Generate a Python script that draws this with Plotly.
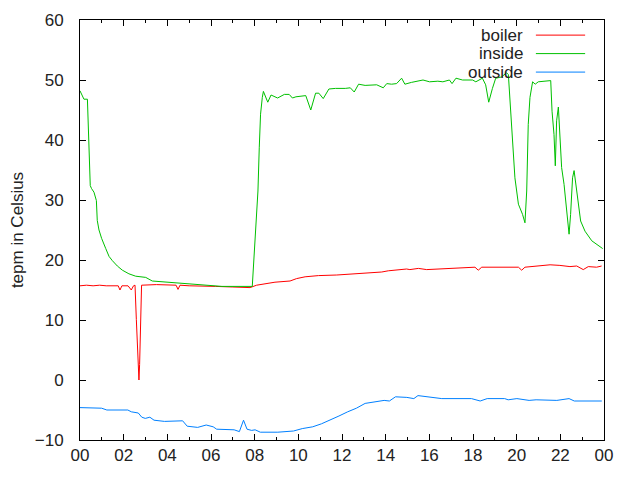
import plotly.graph_objects as go

# hours since midnight, readings in Celsius
boiler_hours = [0.0, 0.3, 0.6, 0.9, 1.2, 1.6, 1.75, 1.83, 1.92, 2.2, 2.35, 2.45, 2.52, 2.58,
                2.63, 2.67, 2.70, 2.73, 2.78, 2.82, 3.5, 4.0, 4.4, 4.49, 4.58, 5.0, 5.6, 6.2,
                7.0, 7.79, 8.09, 8.40, 8.93, 9.62, 9.92, 10.31, 10.92, 11.76, 12.98, 13.82,
                14.12, 14.81, 14.96, 15.11, 15.50, 15.88, 16.64, 17.33, 18.09, 18.24, 18.40,
                20.08, 20.23, 20.38, 20.84, 21.53, 21.98, 22.44, 22.75, 23.05, 23.28, 23.66,
                23.89]
boiler_temp = [15.7, 15.8, 15.7, 15.8, 15.7, 15.7, 15.7, 15.0, 15.7, 15.7, 15.0, 15.7, 15.8, 10.1,
               6.2, 2.3, 0.0, 2.6, 8.2, 15.8, 15.9, 15.9, 15.8, 15.1, 15.8, 15.7, 15.6, 15.6,
               15.5, 15.4, 15.8, 16.0, 16.3, 16.5, 16.9, 17.2, 17.4, 17.5, 17.8, 18.0,
               18.2, 18.4, 18.5, 18.4, 18.6, 18.4, 18.5, 18.7, 18.8, 18.3, 18.8,
               18.8, 18.3, 18.8, 19.0, 19.2, 19.1, 18.9, 19.0, 18.4, 18.9, 18.8,
               19.0]

inside_hours = [0.0, 0.18, 0.34, 0.38, 0.44, 0.47, 0.53, 0.64, 0.75, 0.79, 0.87, 0.99, 1.18,
                1.33, 1.48, 1.71, 1.94, 2.24, 2.55, 3.01, 3.31, 4.38, 5.0, 5.5, 6.5, 7.89,
                7.94, 8.0, 8.09, 8.15, 8.21, 8.27, 8.35, 8.40, 8.6, 8.75, 9.05, 9.36, 9.58,
                9.73, 9.89, 10.34, 10.57, 10.79, 10.94, 11.14, 11.40, 11.70, 12.15, 12.38,
                12.56, 12.76, 13.06, 13.59, 13.89, 14.05, 14.27, 14.5, 14.73, 14.88, 15.18,
                15.71, 16.01, 16.39, 16.62, 16.92, 17.04, 17.22, 17.52, 17.98, 18.13, 18.43,
                18.58, 18.72, 18.89, 19.04, 19.3, 19.54, 19.62, 19.69, 19.77, 19.85, 19.92,
                20.08, 20.27, 20.38, 20.46, 20.53, 20.61, 20.73, 20.85, 20.99, 21.56, 21.62,
                21.71, 21.77, 21.83, 21.91, 21.98, 22.06, 22.17, 22.29, 22.40, 22.47, 22.56,
                22.63, 22.75, 22.93, 23.13, 23.44, 23.94]
inside_temp = [48.2, 46.8, 46.8, 41.5, 37.7, 32.4, 31.9, 31.3, 29.9, 26.6, 25.0, 23.6, 21.9,
               20.6, 19.9, 19.0, 18.3, 17.7, 17.3, 17.1, 16.5, 16.2, 16.0, 15.8, 15.6, 15.6,
               19.0, 21.5, 27.1, 31.5, 38.7, 44.3, 47.1, 48.1, 46.3, 47.5, 47.0, 47.6, 47.6,
               47.0, 47.2, 47.4, 45.0, 47.8, 47.8, 46.9, 48.5, 48.6, 48.6, 48.7,
               48.0, 49.3, 49.1, 49.2, 48.7, 49.4, 49.3, 49.4, 50.3, 49.3, 49.6,
               50.0, 49.7, 49.8, 49.7, 50.0, 49.4, 50.3, 50.0, 50.0, 49.7, 50.3,
               49.2, 46.3, 48.6, 50.3, 50.5, 51.2, 50.9, 46.5, 41.5, 37.6, 33.7,
               29.3, 27.6, 26.2, 31.5, 42.6, 47.1, 49.7, 49.3, 49.7, 49.9, 44.8,
               40.9, 35.7, 43.2, 45.5, 40.9, 35.4, 32.6, 27.6, 24.3, 27.6, 33.7,
               34.9, 31.5, 26.5, 24.8, 23.2, 21.9]

outside_hours = [0.0, 0.99, 1.23, 2.19, 2.35, 2.67, 2.83, 2.99, 3.2, 3.39, 3.87, 4.59, 4.7,
                 4.91, 5.39, 5.78, 6.1, 6.26, 7.06, 7.3, 7.49, 7.65, 7.86, 8.02, 8.26, 9.06,
                 9.78, 10.18, 10.66, 11.06, 11.46, 11.86, 12.26, 12.66, 13.06, 13.45, 13.93,
                 14.17, 14.45, 14.97, 15.29, 15.48, 15.77, 16.25, 16.57, 17.93, 18.09, 18.33,
                 18.65, 19.45, 19.61, 20.01, 20.57, 20.89, 21.84, 22.08, 22.4, 22.64, 23.9]
outside_temp = [-4.6, -4.7, -5.0, -5.0, -5.3, -5.5, -6.2, -6.4, -6.2, -6.7, -6.9, -6.9, -6.8,
                -7.7, -7.9, -7.5, -7.8, -8.2, -8.3, -8.6, -6.7, -8.2, -8.4, -8.3, -8.7, -8.7,
                -8.5, -8.1, -7.8, -7.3, -6.7, -6.0, -5.3, -4.7, -3.9, -3.7, -3.4,
                -3.5, -2.8, -2.9, -3.1, -2.6, -2.7, -2.9, -3.1, -3.1, -3.3, -3.5,
                -3.1, -3.1, -3.3, -3.1, -3.4, -3.3, -3.4, -3.3, -3.1, -3.5, -3.5]

tick_hours = list(range(0, 25, 2))
tick_labels = ["00", "02", "04", "06", "08", "10", "12", "14", "16", "18", "20", "22", "00"]

series_names = ["boiler", "inside", "outside"]
series_colors = ["#ff0000", "#00c000", "#0080ff"]

FONT = dict(family="Liberation Sans, Arial, sans-serif", size=17, color="#222222")

fig = go.Figure()
for name, hours, temps, color in zip(series_names,
                                     [boiler_hours, inside_hours, outside_hours],
                                     [boiler_temp, inside_temp, outside_temp],
                                     series_colors):
    fig.add_trace(go.Scatter(x=hours, y=temps, mode="lines", name=name,
                             line=dict(color=color, width=1)))

# gnuplot style key: text right aligned, sample line to its right
key_rows = [0.964, 0.920, 0.876]
for name, color, yk in zip(series_names, series_colors, key_rows):
    fig.add_annotation(text=name, x=0.849, y=yk, xref="paper", yref="paper",
                       xanchor="right", yanchor="middle", showarrow=False, font=FONT)
    fig.add_shape(type="line", xref="paper", yref="paper", x0=0.870, x1=0.964,
                  y0=yk, y1=yk, line=dict(color=color, width=1))

axis_common = dict(showline=True, linecolor="black", linewidth=1, mirror="ticks",
                   ticks="inside", tickcolor="black", showgrid=False, zeroline=False,
                   tickfont=FONT, automargin=False)
fig.update_xaxes(range=[0, 24], tickvals=tick_hours, ticktext=tick_labels, ticklen=6,
                 ticklabelstandoff=0,
                 minor=dict(dtick=1, ticks="inside", ticklen=3, tickcolor="black"),
                 **axis_common)
fig.update_yaxes(range=[-10, 60], dtick=10, ticklen=6, ticklabelstandoff=12,
                 title=dict(text="tepm in Celsius", font=FONT, standoff=14),
                 **axis_common)
# the page puts the figure 8px in from the top left, so the figure is 8px smaller
fig.update_layout(width=632, height=472, showlegend=False,
                  margin=dict(l=72, r=36, t=12, b=40),
                  plot_bgcolor="white", paper_bgcolor="white")

fig.write_html("out.html")
